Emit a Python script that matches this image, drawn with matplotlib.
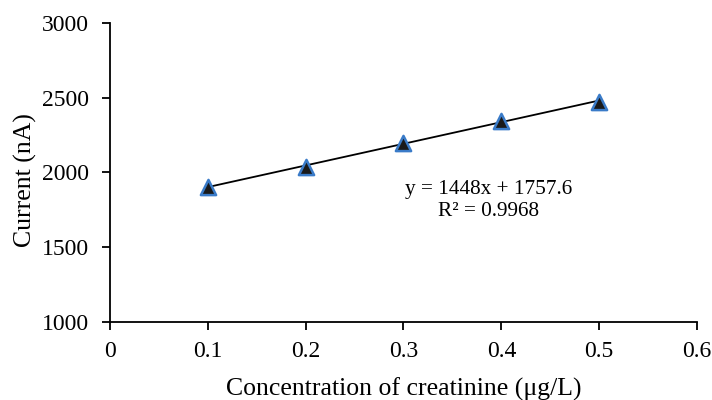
import matplotlib
matplotlib.use("Agg")
import matplotlib.pyplot as plt
import numpy as np

plt.rcParams['font.family'] = ['Liberation Serif', 'DejaVu Serif']

# Calibration data
concentration = [0.1, 0.2, 0.3, 0.4, 0.5]
current = [1903, 2035, 2200, 2345, 2472]
slope, intercept = 1448, 1757.6
x_ticks = [0, 0.1, 0.2, 0.3, 0.4, 0.5, 0.6]
y_ticks = [1000, 1500, 2000, 2500, 3000]

fig = plt.figure(figsize=(7.12, 4.0), dpi=100)
ax = fig.add_axes([0.1545, 0.195, 0.8244, 0.7475])

xfit = np.array([concentration[0], concentration[-1]])
ax.plot(xfit, slope * xfit + intercept, color='black', lw=1.3, zorder=2)
ax.scatter(concentration, current, marker='^', s=120, facecolor='#1a1a1a',
           edgecolor='#3A7BC8', linewidth=1.8, zorder=3)

ax.text(0.387, 1815, 'y = 1448x + 1757.6\nR² = 0.9968', ha='center', va='center',
        fontsize=15.3, linespacing=1.2)

ax.set_xlim(0, 0.6)
ax.set_ylim(1000, 3000)
ax.set_xticks(x_ticks)
ax.set_xticklabels(['0' if t == 0 else f'{t:g}' for t in x_ticks])
ax.set_yticks(y_ticks)
for s in ['top', 'right']:
    ax.spines[s].set_visible(False)
for s in ['left', 'bottom']:
    ax.spines[s].set_linewidth(1.3)
ax.tick_params(direction='out', length=6, width=1.3, labelsize=17)
ax.tick_params(axis='x', pad=8)
ax.tick_params(axis='y', pad=9)
ax.set_xlabel('Concentration of creatinine (μg/L)', fontsize=18.5, labelpad=11)
ax.set_ylabel('Current (nA)', fontsize=18.5)
ax.yaxis.set_label_coords(-0.124, 0.475)

fig.savefig('out.png', dpi=100)
